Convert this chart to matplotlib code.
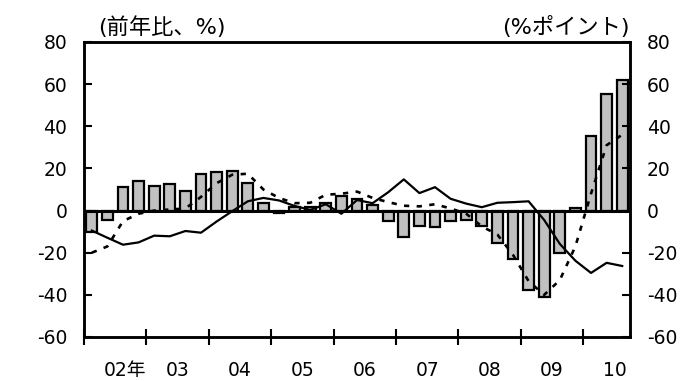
import numpy as np
import matplotlib.pyplot as plt
from matplotlib.transforms import ScaledTranslation

plt.rcParams['font.family'] = ['DejaVu Sans', 'Noto Sans CJK JP']
plt.rcParams['axes.unicode_minus'] = False

# quarterly data, 2002 Q1 .. 2010 Q3
bars = [-10.0, -4.3, 11.4, 13.8, 11.6, 12.7, 9.5, 17.3,
        18.3, 18.9, 13.0, 3.7, -1.1, 1.5, 1.6, 3.5,
        7.1, 5.6, 2.8, -4.8, -12.7, -7.1, -7.9, -4.8,
        -4.3, -7.1, -15.6, -23.2, -37.5, -40.8, -20.2, 1.1,
        35.4, 55.1, 62.0]
solid_line = [-9.5, -12.9, -16.2, -15.1, -11.9, -12.2, -9.7, -10.5,
              -5.2, -0.3, 4.4, 6.0, 4.8, 2.2, 0.3, 3.0,
              -1.5, 5.0, 3.5, 8.7, 14.8, 8.3, 11.1, 5.6,
              3.3, 1.6, 3.7, 4.0, 4.4, -4.5, -15.8, -23.8,
              -29.6, -24.8, -26.3]
dotted_line = [-20.0, -17.0, -5.0, -1.5, 0.0, 0.5, 1.0, 6.5,
               13.0, 17.0, 17.5, 10.0, 6.0, 3.5, 3.7, 7.5,
               8.0, 9.0, 6.0, 4.0, 2.3, 2.0, 3.0, 1.0,
               -1.5, -7.5, -11.4, -21.0, -33.5, -40.0, -33.0, -17.0,
               8.0, 31.0, 36.0]
year_labels = ['02年', '03', '04', '05', '06', '07', '08', '09', '10']

x = np.arange(len(bars))

fig = plt.figure(figsize=(6.85, 3.81), dpi=100)
ax = fig.add_axes([84 / 685, 1 - 337 / 381, (630 - 84) / 685, (337 - 42) / 381])

ax.bar(x, bars, width=0.7, color='#c0c0c0', edgecolor='black', linewidth=1.6, zorder=2)
ax.axhline(0, color='black', lw=2.2, zorder=3)
ax.plot(x, solid_line, color='black', lw=1.6, zorder=4)
ax.plot(x, dotted_line, color='black', lw=1.9, ls=(0, (2.0, 2.8)), zorder=4)

ax.set_xlim(-0.5, 34.5)
ax.set_ylim(-60, 80)
ax.set_yticks(range(-60, 81, 20))
ax.tick_params(axis='y', direction='in', length=6, width=1.5, labelsize=13.5, pad=12)

# year boundaries as ticks, labels in the middle of each year
ax.set_xticks([-0.5] + [3.5 + 4 * k for k in range(8)])
ax.set_xticklabels([])
ax.tick_params(axis='x', which='major', direction='inout', length=11, width=1.5)
ax.set_xticks([1.5 + 4 * k for k in range(8)] + [33.5], minor=True)
ax.set_xticklabels(year_labels, minor=True)
ax.tick_params(axis='x', which='minor', length=0, labelsize=13.5, pad=17)
first = ax.xaxis.get_minorticklabels()[0]
first.set_transform(first.get_transform() + ScaledTranslation(0.095, 0, fig.dpi_scale_trans))

ax2 = ax.twinx()
ax2.set_ylim(-60, 80)
ax2.set_yticks(range(-60, 81, 20))
ax2.tick_params(axis='y', direction='in', length=6, width=1.5, labelsize=13.5, pad=12)

for a in (ax, ax2):
    for s in a.spines.values():
        s.set_linewidth(1.8)

fig.text(98 / 685, 1 - 27 / 381, '(前年比、%)', fontsize=16, ha='left', va='center')
fig.text(630 / 685, 1 - 27 / 381, '(%ポイント)', fontsize=16, ha='right', va='center')

fig.savefig('out.png', dpi=100)
